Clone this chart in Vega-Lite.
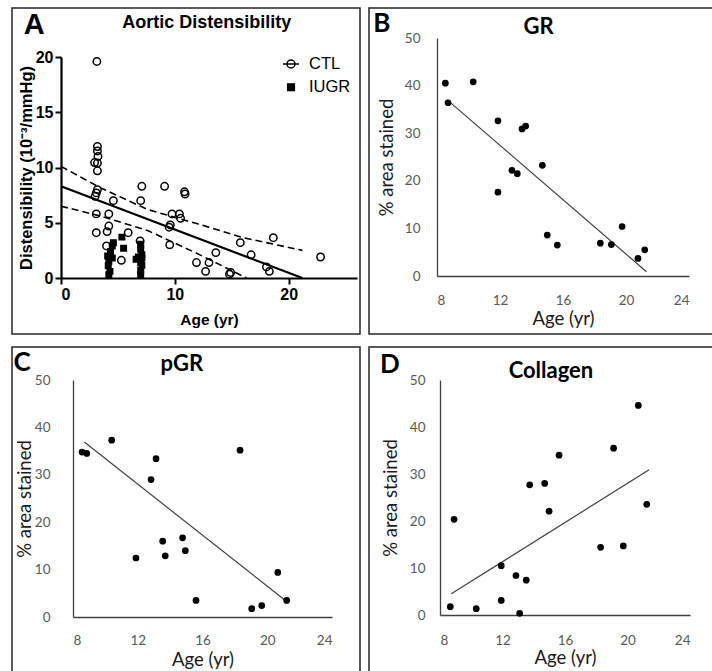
{
  "$schema": "https://vega.github.io/schema/vega-lite/v6.json",
  "padding": {"left": 11, "top": 7, "right": 0, "bottom": 0},
  "background": "white",
  "config": {
    "view": {"stroke": "#262626", "strokeWidth": 1.5},
    "axis": {"grid": false}
  },
  "datasets": {
    "aortic": [
      {"group": "CTL", "age": 3.15, "value": 19.6},
      {"group": "CTL", "age": 3.2, "value": 11.9},
      {"group": "CTL", "age": 3.2, "value": 11.5},
      {"group": "CTL", "age": 3.25, "value": 11.0},
      {"group": "CTL", "age": 2.95, "value": 10.45},
      {"group": "CTL", "age": 3.2, "value": 10.4},
      {"group": "CTL", "age": 3.2, "value": 9.7},
      {"group": "CTL", "age": 3.2, "value": 8.0},
      {"group": "CTL", "age": 3.1, "value": 7.7},
      {"group": "CTL", "age": 3.0, "value": 7.4},
      {"group": "CTL", "age": 3.1, "value": 5.8},
      {"group": "CTL", "age": 3.1, "value": 4.1},
      {"group": "CTL", "age": 4.6, "value": 7.0},
      {"group": "CTL", "age": 4.2, "value": 5.8},
      {"group": "CTL", "age": 4.2, "value": 4.7},
      {"group": "CTL", "age": 4.05, "value": 4.2},
      {"group": "CTL", "age": 4.0, "value": 2.9},
      {"group": "CTL", "age": 5.3, "value": 1.6},
      {"group": "CTL", "age": 5.9, "value": 4.1},
      {"group": "CTL", "age": 7.1, "value": 8.3},
      {"group": "CTL", "age": 7.0, "value": 7.0},
      {"group": "CTL", "age": 6.95, "value": 3.35},
      {"group": "CTL", "age": 9.1, "value": 8.3},
      {"group": "CTL", "age": 9.75, "value": 5.8},
      {"group": "CTL", "age": 9.6, "value": 4.8},
      {"group": "CTL", "age": 9.5, "value": 4.6},
      {"group": "CTL", "age": 9.55, "value": 3.0},
      {"group": "CTL", "age": 10.4, "value": 5.8},
      {"group": "CTL", "age": 10.5, "value": 5.4},
      {"group": "CTL", "age": 10.85, "value": 7.8},
      {"group": "CTL", "age": 10.9, "value": 7.6},
      {"group": "CTL", "age": 11.9, "value": 1.4},
      {"group": "CTL", "age": 12.7, "value": 0.6},
      {"group": "CTL", "age": 13.0, "value": 1.4},
      {"group": "CTL", "age": 13.6, "value": 2.3},
      {"group": "CTL", "age": 15.75, "value": 3.2},
      {"group": "CTL", "age": 14.8, "value": 0.35},
      {"group": "CTL", "age": 14.9, "value": 0.5},
      {"group": "CTL", "age": 16.7, "value": 2.1},
      {"group": "CTL", "age": 18.05, "value": 1.0},
      {"group": "CTL", "age": 18.3, "value": 0.6},
      {"group": "CTL", "age": 18.65, "value": 3.65},
      {"group": "CTL", "age": 22.8, "value": 1.9},
      {"group": "IUGR", "age": 4.6, "value": 3.2},
      {"group": "IUGR", "age": 5.35, "value": 3.7},
      {"group": "IUGR", "age": 5.5, "value": 2.7},
      {"group": "IUGR", "age": 4.5, "value": 2.9},
      {"group": "IUGR", "age": 4.1, "value": 2.0},
      {"group": "IUGR", "age": 4.2, "value": 1.5},
      {"group": "IUGR", "age": 4.15, "value": 1.1},
      {"group": "IUGR", "age": 4.3, "value": 0.6},
      {"group": "IUGR", "age": 4.2, "value": 0.3},
      {"group": "IUGR", "age": 4.35, "value": 2.4},
      {"group": "IUGR", "age": 4.5, "value": 1.8},
      {"group": "IUGR", "age": 7.0, "value": 3.05},
      {"group": "IUGR", "age": 7.0, "value": 2.6},
      {"group": "IUGR", "age": 7.1, "value": 2.1},
      {"group": "IUGR", "age": 6.6, "value": 1.7},
      {"group": "IUGR", "age": 7.0, "value": 1.4},
      {"group": "IUGR", "age": 7.1, "value": 1.15},
      {"group": "IUGR", "age": 7.0, "value": 0.7},
      {"group": "IUGR", "age": 7.0, "value": 0.3},
      {"group": "IUGR", "age": 6.8, "value": 1.9},
      {"group": "IUGR", "age": 7.1, "value": 1.8}
    ],
    "aorticFit": [
      {"line": "fit", "age": 0, "value": 8.3},
      {"line": "fit", "age": 21.2, "value": 0},
      {"line": "upper", "age": 0, "value": 10.1},
      {"line": "upper", "age": 3.5, "value": 8.15},
      {"line": "upper", "age": 7.6, "value": 6.2},
      {"line": "upper", "age": 12, "value": 4.9},
      {"line": "upper", "age": 16, "value": 3.65},
      {"line": "upper", "age": 21.2, "value": 2.5},
      {"line": "lower", "age": 0, "value": 6.5},
      {"line": "lower", "age": 3.5, "value": 5.6},
      {"line": "lower", "age": 7.6, "value": 4.3},
      {"line": "lower", "age": 12, "value": 2.2},
      {"line": "lower", "age": 16.3, "value": 0}
    ],
    "gr": [
      {"age": 8.53, "value": 40.5},
      {"age": 8.7, "value": 36.4},
      {"age": 10.3, "value": 40.8},
      {"age": 11.87, "value": 32.6},
      {"age": 11.87, "value": 17.6},
      {"age": 12.76, "value": 22.2},
      {"age": 13.1, "value": 21.5},
      {"age": 13.4, "value": 30.9},
      {"age": 13.63, "value": 31.5},
      {"age": 14.69, "value": 23.25},
      {"age": 15.0, "value": 8.6},
      {"age": 15.64, "value": 6.5},
      {"age": 18.37, "value": 6.9},
      {"age": 19.07, "value": 6.6},
      {"age": 19.75, "value": 10.4},
      {"age": 20.76, "value": 3.7},
      {"age": 21.19, "value": 5.5}
    ],
    "grFit": [
      {"age": 8.65, "value": 37.0},
      {"age": 21.3, "value": 0.9}
    ],
    "pgr": [
      {"age": 8.56, "value": 34.8},
      {"age": 8.85, "value": 34.5},
      {"age": 10.39, "value": 37.3},
      {"age": 11.89, "value": 12.45},
      {"age": 12.82, "value": 29.0},
      {"age": 13.13, "value": 33.4},
      {"age": 13.54, "value": 16.0},
      {"age": 13.7, "value": 12.9},
      {"age": 14.77, "value": 16.7},
      {"age": 14.94, "value": 14.0},
      {"age": 15.6, "value": 3.5},
      {"age": 18.32, "value": 35.2},
      {"age": 19.04, "value": 1.75},
      {"age": 19.66, "value": 2.4},
      {"age": 20.65, "value": 9.4},
      {"age": 21.2, "value": 3.5}
    ],
    "pgrFit": [
      {"age": 8.7, "value": 36.9},
      {"age": 21.06, "value": 3.65}
    ],
    "col": [
      {"age": 8.66, "value": 1.77},
      {"age": 8.9, "value": 20.35},
      {"age": 10.32, "value": 1.35},
      {"age": 11.92, "value": 10.5},
      {"age": 11.92, "value": 3.1},
      {"age": 12.86, "value": 8.4},
      {"age": 13.1, "value": 0.35},
      {"age": 13.52, "value": 7.4},
      {"age": 13.74, "value": 27.7},
      {"age": 14.7, "value": 28.0},
      {"age": 14.98, "value": 22.1},
      {"age": 15.62, "value": 34.0},
      {"age": 18.28, "value": 14.4},
      {"age": 19.11, "value": 35.5},
      {"age": 19.73, "value": 14.7},
      {"age": 20.69, "value": 44.6},
      {"age": 21.23, "value": 23.55}
    ],
    "colFit": [
      {"age": 8.72, "value": 4.5},
      {"age": 21.38, "value": 30.9}
    ]
  },
  "spacing": 11,
  "vconcat": [
    {
      "spacing": 7,
      "hconcat": [
        {
          "width": 348,
          "height": 326,
          "layer": [
            {"data": {"name": "aorticFit"}, "transform": [{"filter": "datum.line === 'fit'"}],
              "mark": {"type": "line", "color": "black", "strokeWidth": 2.2},
              "encoding": {
                "x": {"field": "age", "type": "quantitative",
                  "scale": {"domain": [0, 25], "range": [49, 345]},
                  "axis": {"title": "Age (yr)", "values": [0, 10, 20], "offset": -56,
                    "domainColor": "black", "domainWidth": 2.2, "tickColor": "black", "tickWidth": 2, "tickSize": 6,
                    "labelFont": "Liberation Sans", "labelFontWeight": "bold", "labelFontSize": 16, "labelColor": "black", "labelPadding": 2,
                    "titleFont": "Liberation Sans", "titleFontSize": 15.5, "titleFontWeight": "bold", "titleColor": "black", "titlePadding": 10}},
                "y": {"field": "value", "type": "quantitative",
                  "scale": {"domain": [0, 20], "range": [270, 49]},
                  "axis": {"title": "Distensibility (10⁻³/mmHg)", "values": [0, 5, 10, 15, 20], "offset": -49,
                    "domainColor": "black", "domainWidth": 2.2, "tickColor": "black", "tickWidth": 2, "tickSize": 6,
                    "labelFont": "Liberation Sans", "labelFontWeight": "bold", "labelFontSize": 16, "labelColor": "black", "labelPadding": 2,
                    "titleFont": "Liberation Sans", "titleFontSize": 16.5, "titleFontWeight": "bold", "titleColor": "black", "titlePadding": 1}}
              }},
            {"data": {"name": "aorticFit"}, "transform": [{"filter": "datum.line !== 'fit'"}],
              "mark": {"type": "line", "color": "black", "strokeWidth": 1.6, "strokeDash": [7, 4]},
              "encoding": {
                "x": {"field": "age", "type": "quantitative"},
                "y": {"field": "value", "type": "quantitative"},
                "detail": {"field": "line"}}},
            {"data": {"name": "aortic"},
              "mark": {"type": "point", "strokeWidth": 1.5, "opacity": 1, "color": "black"},
              "encoding": {
                "x": {"field": "age", "type": "quantitative"},
                "y": {"field": "value", "type": "quantitative"},
                "shape": {"condition": {"test": "datum.group === 'IUGR'", "value": "square"}, "value": "circle"},
                "fill": {"condition": {"test": "datum.group === 'IUGR'", "value": "black"}, "value": "transparent"},
                "size": {"condition": {"test": "datum.group === 'IUGR'", "value": 30}, "value": 55}
              }},
            {"data": {"name": "aortic"}, "transform": [{"filter": "false"}],
              "mark": {"type": "point", "strokeWidth": 1.5, "opacity": 1, "color": "black", "filled": false},
              "encoding": {
                "x": {"field": "age", "type": "quantitative"},
                "y": {"field": "value", "type": "quantitative"},
                "shape": {"field": "group", "type": "nominal", "title": null,
                  "scale": {"domain": ["CTL", "IUGR"], "range": ["M-1,0L1,0M-0.5,0A0.5,0.5,0,1,1,0.5,0A0.5,0.5,0,1,1,-0.5,0", "square"]},
                  "legend": {"orient": "none", "legendX": 270, "legendY": 47, "padding": 0, "title": null,
                    "rowPadding": 6, "labelOffset": 9, "symbolStrokeColor": "black", "symbolStrokeWidth": 1.5,
                    "labelFont": "Liberation Sans", "labelFontSize": 16.5, "labelColor": "black"}},
                "fill": {"field": "group", "type": "nominal", "title": null,
                  "scale": {"domain": ["CTL", "IUGR"], "range": ["transparent", "black"]}},
                "size": {"field": "group", "type": "nominal", "title": null,
                  "scale": {"domain": ["CTL", "IUGR"], "range": [256, 45]}}
              }},
            {"data": {"values": [{"label": "A"}]},
              "mark": {"type": "text", "font": "Liberation Sans", "fontWeight": "bold", "fontSize": 29, "align": "center", "baseline": "alphabetic", "color": "black"},
              "encoding": {"x": {"datum": -2.36, "type": "quantitative"}, "y": {"datum": 22.1, "type": "quantitative"}, "text": {"field": "label", "type": "nominal"}}},
            {"data": {"values": [{"label": "Aortic Distensibility"}]},
              "mark": {"type": "text", "font": "Liberation Sans", "fontWeight": "bold", "fontSize": 18, "align": "center", "baseline": "alphabetic", "color": "black"},
              "encoding": {"x": {"datum": 12.8, "type": "quantitative"}, "y": {"datum": 22.6, "type": "quantitative"}, "text": {"field": "label", "type": "nominal"}}}
          ]
        },
        {
          "width": 345,
          "height": 326,
          "layer": [
            {"data": {"name": "grFit"}, "mark": {"type": "line", "color": "#404040", "strokeWidth": 1.2},
              "encoding": {
                "x": {"field": "age", "type": "quantitative",
                  "scale": {"domain": [8, 24], "range": [68, 320]},
                  "axis": {"title": "Age (yr)", "values": [8, 12, 16, 20, 24], "offset": -58,
                    "ticks": false, "tickSize": 0, "domainColor": "#404040", "domainWidth": 1.3,
                    "labelFont": "Lato", "labelFontSize": 13.5, "labelColor": "#595959", "labelPadding": 17,
                    "titleFont": "Lato", "titleFontSize": 18.5, "titleFontWeight": "normal", "titleColor": "#1a1a1a", "titlePadding": 3}},
                "y": {"field": "value", "type": "quantitative",
                  "scale": {"domain": [0, 50], "range": [268, 30]},
                  "axis": {"title": "% area stained", "values": [0, 10, 20, 30, 40, 50], "offset": -68,
                    "ticks": false, "tickSize": 0, "domainColor": "#404040", "domainWidth": 1.3,
                    "labelFont": "Lato", "labelFontSize": 13.5, "labelColor": "#595959", "labelPadding": 17,
                    "titleFont": "Lato", "titleFontSize": 18.5, "titleFontWeight": "normal", "titleColor": "#1a1a1a", "titlePadding": 8}}
              }},
            {"data": {"name": "gr"}, "mark": {"type": "circle", "color": "black", "opacity": 1, "size": 45},
              "encoding": {"x": {"field": "age", "type": "quantitative"}, "y": {"field": "value", "type": "quantitative"}}},
            {"data": {"values": [{"label": "B"}]},
              "mark": {"type": "text", "font": "Lato", "fontWeight": "bold", "fontSize": 26, "align": "center", "baseline": "alphabetic", "color": "black"},
              "encoding": {"x": {"datum": 4.5, "type": "quantitative"}, "y": {"datum": 51.3, "type": "quantitative"}, "text": {"field": "label", "type": "nominal"}}},
            {"data": {"values": [{"label": "GR"}]},
              "mark": {"type": "text", "font": "Lato", "fontWeight": "bold", "fontSize": 22, "align": "center", "baseline": "alphabetic", "color": "black"},
              "encoding": {"x": {"datum": 14.45, "type": "quantitative"}, "y": {"datum": 50.8, "type": "quantitative"}, "text": {"field": "label", "type": "nominal"}}}
          ]
        }
      ]
    },
    {
      "spacing": 7,
      "hconcat": [
        {
          "width": 348,
          "height": 326,
          "layer": [
            {"data": {"name": "pgrFit"}, "mark": {"type": "line", "color": "#404040", "strokeWidth": 1.2},
              "encoding": {
                "x": {"field": "age", "type": "quantitative",
                  "scale": {"domain": [8, 24], "range": [61, 320]},
                  "axis": {"title": "Age (yr)", "values": [8, 12, 16, 20, 24], "offset": -56,
                    "ticks": false, "tickSize": 0, "domainColor": "#404040", "domainWidth": 1.3,
                    "labelFont": "Lato", "labelFontSize": 13.5, "labelColor": "#595959", "labelPadding": 16.5,
                    "titleFont": "Lato", "titleFontSize": 18.5, "titleFontWeight": "normal", "titleColor": "#1a1a1a", "titlePadding": 3.5}},
                "y": {"field": "value", "type": "quantitative",
                  "scale": {"domain": [0, 50], "range": [270, 33]},
                  "axis": {"title": "% area stained", "values": [0, 10, 20, 30, 40, 50], "offset": -61,
                    "ticks": false, "tickSize": 0, "domainColor": "#404040", "domainWidth": 1.3,
                    "labelFont": "Lato", "labelFontSize": 13.5, "labelColor": "#595959", "labelPadding": 23,
                    "titleFont": "Lato", "titleFontSize": 18.5, "titleFontWeight": "normal", "titleColor": "#1a1a1a", "titlePadding": 0}}
              }},
            {"data": {"name": "pgr"}, "mark": {"type": "circle", "color": "black", "opacity": 1, "size": 45},
              "encoding": {"x": {"field": "age", "type": "quantitative"}, "y": {"field": "value", "type": "quantitative"}}},
            {"data": {"values": [{"label": "C"}]},
              "mark": {"type": "text", "font": "Lato", "fontWeight": "bold", "fontSize": 26, "align": "center", "baseline": "alphabetic", "color": "black"},
              "encoding": {"x": {"datum": 4.85, "type": "quantitative"}, "y": {"datum": 51.8, "type": "quantitative"}, "text": {"field": "label", "type": "nominal"}}},
            {"data": {"values": [{"label": "pGR"}]},
              "mark": {"type": "text", "font": "Lato", "fontWeight": "bold", "fontSize": 22, "align": "center", "baseline": "alphabetic", "color": "black"},
              "encoding": {"x": {"datum": 14.72, "type": "quantitative"}, "y": {"datum": 51.8, "type": "quantitative"}, "text": {"field": "label", "type": "nominal"}}}
          ]
        },
        {
          "width": 345,
          "height": 326,
          "layer": [
            {"data": {"name": "colFit"}, "mark": {"type": "line", "color": "#404040", "strokeWidth": 1.2},
              "encoding": {
                "x": {"field": "age", "type": "quantitative",
                  "scale": {"domain": [8, 24], "range": [71, 321]},
                  "axis": {"title": "Age (yr)", "values": [8, 12, 16, 20, 24], "offset": -58,
                    "ticks": false, "tickSize": 0, "domainColor": "#404040", "domainWidth": 1.3,
                    "labelFont": "Lato", "labelFontSize": 13.5, "labelColor": "#595959", "labelPadding": 18,
                    "titleFont": "Lato", "titleFontSize": 18.5, "titleFontWeight": "normal", "titleColor": "#1a1a1a", "titlePadding": 2}},
                "y": {"field": "value", "type": "quantitative",
                  "scale": {"domain": [0, 50], "range": [268, 33]},
                  "axis": {"title": "% area stained", "values": [0, 10, 20, 30, 40, 50], "offset": -71,
                    "ticks": false, "tickSize": 0, "domainColor": "#404040", "domainWidth": 1.3,
                    "labelFont": "Lato", "labelFontSize": 13.5, "labelColor": "#595959", "labelPadding": 15,
                    "titleFont": "Lato", "titleFontSize": 18.5, "titleFontWeight": "normal", "titleColor": "#1a1a1a", "titlePadding": 9}}
              }},
            {"data": {"name": "col"}, "mark": {"type": "circle", "color": "black", "opacity": 1, "size": 45},
              "encoding": {"x": {"field": "age", "type": "quantitative"}, "y": {"field": "value", "type": "quantitative"}}},
            {"data": {"values": [{"label": "D"}]},
              "mark": {"type": "text", "font": "Lato", "fontWeight": "bold", "fontSize": 26, "align": "center", "baseline": "alphabetic", "color": "black"},
              "encoding": {"x": {"datum": 4.8, "type": "quantitative"}, "y": {"datum": 51.5, "type": "quantitative"}, "text": {"field": "label", "type": "nominal"}}},
            {"data": {"values": [{"label": "Collagen"}]},
              "mark": {"type": "text", "font": "Lato", "fontWeight": "bold", "fontSize": 22, "align": "center", "baseline": "alphabetic", "color": "black"},
              "encoding": {"x": {"datum": 15.1, "type": "quantitative"}, "y": {"datum": 50.4, "type": "quantitative"}, "text": {"field": "label", "type": "nominal"}}}
          ]
        }
      ]
    }
  ]
}
